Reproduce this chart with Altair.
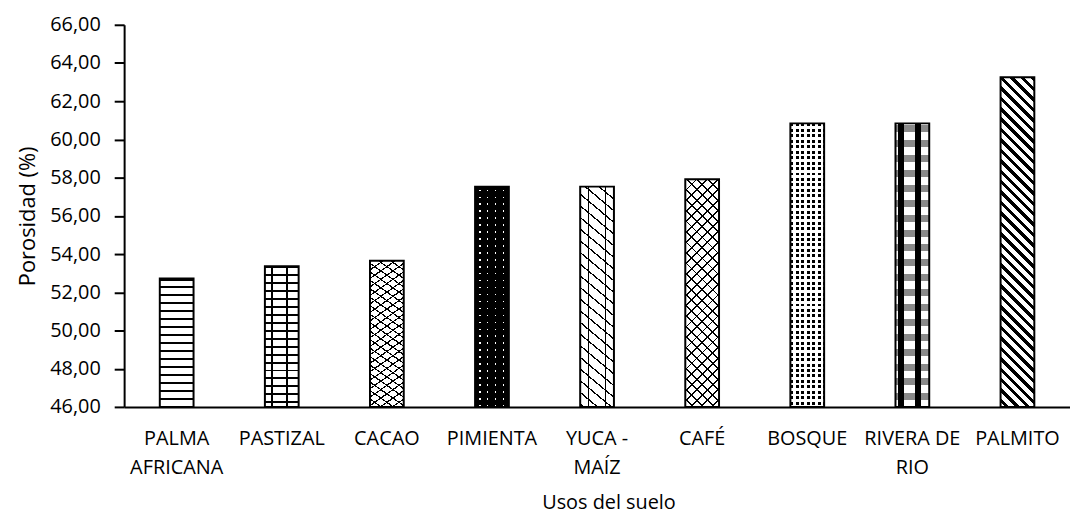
import math
import altair as alt
import pandas as pd

# ---- data ----
categories = ["PALMA AFRICANA", "PASTIZAL", "CACAO", "PIMIENTA", "YUCA - MAÍZ",
              "CAFÉ", "BOSQUE", "RIVERA DE RIO", "PALMITO"]
values = [52.72, 53.36, 53.65, 57.53, 57.53, 57.91, 60.84, 60.84, 63.25]
tick_label_lines = [["PALMA", "AFRICANA"], ["PASTIZAL"], ["CACAO"], ["PIMIENTA"],
                    ["YUCA -", "MAÍZ"], ["CAFÉ"], ["BOSQUE"], ["RIVERA DE", "RIO"], ["PALMITO"]]
y_ticks = [46, 48, 50, 52, 54, 56, 58, 60, 62, 64, 66]

Y_MIN, Y_MAX = 46, 66
PLOT_W, PLOT_H = 953, 385
BAR_W = 34
FONT = "Open Sans"
BLACK = "#000000"
WHITE = "#ffffff"
CLEAR = "rgba(0,0,0,0)"

df = pd.DataFrame({"uso": categories, "porosidad": values})


def stripe_fill(angle, period, thick, line_color, bg_color, w, h, phase=0.0):
    """Linear gradient with hard stops that draws parallel stripes at `angle`
    (degrees, screen coords) inside a w x h box (objectBoundingBox units)."""
    a = math.radians(angle)
    nx, ny = -math.sin(a), math.cos(a)
    corners = [(0, 0, 0, 0), (w, 0, 1, 0), (0, h, 0, 1), (w, h, 1, 1)]
    proj = [(cx * nx + cy * ny, X, Y) for cx, cy, X, Y in corners]
    pmin = min(proj)
    pmax = max(proj)
    L = pmax[0] - pmin[0]
    vx, vy = nx * w, ny * h
    k = L / (vx * vx + vy * vy)
    x1, y1 = pmin[1], pmin[2]
    x2, y2 = x1 + vx * k, y1 + vy * k
    stops = [{"offset": 0, "color": bg_color}]
    d = (phase % period) - period
    while d < L:
        s = max(d, 0.0) / L
        e = min(d + thick, L) / L
        if e > s and e > 0 and s < 1:
            s, e = round(s, 5), round(e, 5)
            stops += [{"offset": s, "color": bg_color}, {"offset": s, "color": line_color},
                      {"offset": e, "color": line_color}, {"offset": e, "color": bg_color}]
        d += period
    stops.append({"offset": 1, "color": bg_color})
    return {"gradient": "linear", "x1": round(x1, 5), "y1": round(y1, 5),
            "x2": round(x2, 5), "y2": round(y2, 5), "stops": stops}


def patterns_for(cat, w, h):
    c45 = math.cos(math.radians(45))
    if cat == "PALMA AFRICANA":
        return [stripe_fill(0, 8, 2, BLACK, WHITE, w, h)]
    if cat == "PASTIZAL":
        return [stripe_fill(0, 8, 2, BLACK, WHITE, w, h),
                stripe_fill(-90, 15, 2, BLACK, CLEAR, w, h, phase=6)]
    if cat == "CACAO":
        return [stripe_fill(35, 7, 1.2, BLACK, WHITE, w, h),
                stripe_fill(-35, 7, 1.2, BLACK, CLEAR, w, h)]
    if cat == "PIMIENTA":
        return [stripe_fill(0, 7, 1.5, WHITE, BLACK, w, h, phase=3),
                stripe_fill(-90, 8, 1.5, CLEAR, BLACK, w, h, phase=4)]
    if cat == "YUCA - MAÍZ":
        return [stripe_fill(40, 9, 1.3, BLACK, WHITE, w, h),
                stripe_fill(-90, 17, 1.3, BLACK, CLEAR, w, h, phase=8)]
    if cat == "CAFÉ":
        return [stripe_fill(45, 7.5, 1.3, BLACK, WHITE, w, h),
                stripe_fill(-45, 7.5, 1.3, BLACK, CLEAR, w, h)]
    if cat == "BOSQUE":
        return [stripe_fill(0, 5.5, 3, BLACK, WHITE, w, h),
                stripe_fill(-90, 5.5, 3, CLEAR, WHITE, w, h)]
    if cat == "RIVERA DE RIO":
        return [stripe_fill(0, 15, 7, "#8a8a8a", WHITE, w, h, phase=2),
                stripe_fill(-90, 17, 6, BLACK, CLEAR, w, h, phase=3)]
    if cat == "PALMITO":
        return [stripe_fill(45, 10.5 * c45, 3.2, BLACK, WHITE, w, h)]
    return [WHITE]


# label expression with multi-line labels
expr = "''"
for cat, lines in reversed(list(zip(categories, tick_label_lines))):
    arr = "[" + ", ".join("'" + s + "'" for s in lines) + "]"
    expr = f"datum.value == '{cat}' ? {arr} : ({expr})"

x_enc = alt.X(
    "uso:N", sort=categories,
    scale=alt.Scale(domain=categories, paddingInner=0.5, paddingOuter=0.25),
    axis=alt.Axis(title="Usos del suelo", labelExpr=expr, labelAngle=0, labelAlign="center",
                  labelBaseline="top", labelPadding=22, labelLineHeight=29,
                  labelFont=FONT, labelFontSize=20, labelColor=BLACK, labelOverlap=False,
                  labelLimit=300, ticks=False, tickSize=0, domainColor=BLACK, domainWidth=2,
                  titleFont=FONT, titleFontSize=20, titleFontWeight="normal", titleColor=BLACK,
                  titleX=488, titleY=102, titleBaseline="alphabetic", titleAlign="center"),
)
y_enc = alt.Y(
    "porosidad:Q",
    scale=alt.Scale(domain=[Y_MIN, Y_MAX], zero=False, nice=False),
    axis=alt.Axis(title="Porosidad (%)", values=y_ticks,
                  labelExpr="replace(format(datum.value, '.2f'), '.', ',')",
                  labelFont=FONT, labelFontSize=20, labelColor=BLACK, labelPadding=14,
                  tickSize=10, tickWidth=2, tickColor=BLACK, domainColor=BLACK, domainWidth=2,
                  grid=False, titleFont=FONT, titleFontSize=22, titleFontWeight="normal",
                  titleColor=BLACK, titleX=-90, titleY=PLOT_H / 2, titleBaseline="alphabetic",
                  titleAlign="center", titleAngle=270),
)
y2_enc = alt.Y2(datum=Y_MIN)

layers = []
for cat, val in zip(categories, values):
    h = (val - Y_MIN) / (Y_MAX - Y_MIN) * PLOT_H
    for fill in patterns_for(cat, BAR_W, h):
        layers.append(
            alt.Chart(df)
            .transform_filter(alt.datum.uso == cat)
            .mark_bar(width=BAR_W, fill=fill, strokeWidth=0)
            .encode(x=x_enc, y=y_enc, y2=y2_enc)
        )

outline = (
    alt.Chart(df)
    .mark_bar(width=BAR_W, filled=False, stroke=BLACK, strokeWidth=2)
    .encode(x=x_enc, y=y_enc, y2=y2_enc)
)
layers.append(outline)

chart = (
    alt.layer(*layers)
    .properties(width=PLOT_W, height=PLOT_H, autosize="none",
                padding={"left": 117, "top": 15, "right": 0, "bottom": 109},
                background="white")
    .configure_view(strokeWidth=0)
)

chart.save("out.html", embed_options={"renderer": "svg", "actions": False})
